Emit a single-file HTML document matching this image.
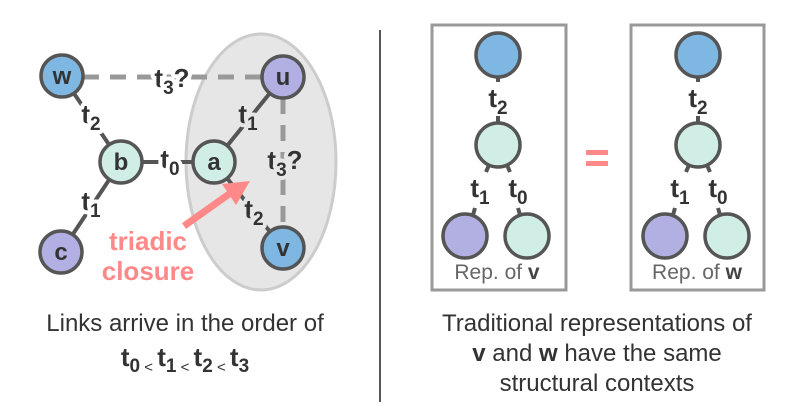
<!DOCTYPE html>
<html><head><meta charset="utf-8"><style>
html,body{margin:0;padding:0;background:#fff;}
svg{display:block;font-family:"Liberation Sans",sans-serif;}
.n{stroke:#555;stroke-width:3.5;}
.e{stroke:#555;stroke-width:4;}
.lb{font-weight:bold;font-size:26px;fill:#333;text-anchor:middle;paint-order:stroke;stroke-width:8;stroke-linejoin:round;}
.nl{font-weight:bold;font-size:24px;fill:#333;text-anchor:middle;}
</style></head><body>
<svg width="797" height="415" viewBox="0 0 797 415">
<ellipse cx="261" cy="162" rx="75" ry="128" fill="#e6e6e6" stroke="#ccc" stroke-width="3"/>
<line x1="83" y1="77" x2="262" y2="77" stroke="#999" stroke-width="5" stroke-dasharray="16,11"/>
<line x1="283" y1="98" x2="283" y2="227" stroke="#999" stroke-width="5" stroke-dasharray="16,11"/>
<line class="e" x1="62" y1="76" x2="121" y2="162"/>
<line class="e" x1="61" y1="252" x2="121" y2="162"/>
<line class="e" x1="121" y1="162" x2="214" y2="162"/>
<line class="e" x1="214" y1="162" x2="283" y2="77"/>
<line class="e" x1="214" y1="162" x2="283" y2="248"/>
<text class="lb" x="172" y="87" stroke="#fff">t<tspan font-size="19" dy="7">3</tspan><tspan dy="-7">?</tspan></text>
<text class="lb" x="285" y="169" stroke="#e6e6e6">t<tspan font-size="19" dy="7">3</tspan><tspan dy="-7">?</tspan></text>
<text class="lb" x="91" y="123" stroke="#fff">t<tspan font-size="19" dy="7">2</tspan></text>
<text class="lb" x="91" y="210" stroke="#fff">t<tspan font-size="19" dy="7">1</tspan></text>
<text class="lb" x="170" y="168" stroke="#fff">t<tspan font-size="19" dy="7">0</tspan></text>
<text class="lb" x="248" y="123" stroke="#e6e6e6">t<tspan font-size="19" dy="7">1</tspan></text>
<text class="lb" x="254" y="218" stroke="#e6e6e6">t<tspan font-size="19" dy="7">2</tspan></text>
<circle class="n" cx="62" cy="76" r="21" fill="#7fb7e3"/><text class="nl" x="62" y="84">w</text>
<circle class="n" cx="283" cy="77" r="21" fill="#b2b0e3"/><text class="nl" x="283" y="85">u</text>
<circle class="n" cx="121" cy="162" r="21" fill="#d1eee6"/><text class="nl" x="121" y="170">b</text>
<circle class="n" cx="214" cy="162" r="21" fill="#d1eee6"/><text class="nl" x="214" y="170">a</text>
<circle class="n" cx="61" cy="252" r="21" fill="#b2b0e3"/><text class="nl" x="61" y="260">c</text>
<circle class="n" cx="283" cy="248" r="21" fill="#7fb7e3"/><text class="nl" x="283" y="256">v</text>
<line x1="184" y1="226" x2="232" y2="192" stroke="#f88" stroke-width="7"/>
<polygon points="250,181 222,184 236,205" fill="#f88"/>
<text x="148" y="250" font-size="26" font-weight="bold" fill="#f88" text-anchor="middle">triadic</text>
<text x="148" y="280" font-size="26" font-weight="bold" fill="#f88" text-anchor="middle">closure</text>
<line x1="380" y1="30" x2="380" y2="402" stroke="#555" stroke-width="2"/>
<rect x="432" y="25" width="134" height="265" fill="none" stroke="#999" stroke-width="3"/>
<rect x="631" y="25" width="133" height="265" fill="none" stroke="#999" stroke-width="3"/>
<g id="tree">
<line class="e" x1="498" y1="76" x2="498" y2="82"/>
<line class="e" x1="498" y1="116" x2="498" y2="124"/>
<line class="e" x1="489" y1="165" x2="486" y2="172"/>
<line class="e" x1="507" y1="165" x2="510" y2="172"/>
<line class="e" x1="475" y1="208" x2="473" y2="215"/>
<line class="e" x1="518" y1="208" x2="520" y2="215"/>
<text class="lb" x="498" y="107" stroke="none">t<tspan font-size="19" dy="7">2</tspan></text>
<text class="lb" x="480" y="197" stroke="none">t<tspan font-size="19" dy="7">1</tspan></text>
<text class="lb" x="518" y="197" stroke="none">t<tspan font-size="19" dy="7">0</tspan></text>
<circle class="n" cx="498" cy="55" r="22" fill="#7fb7e3"/>
<circle class="n" cx="498" cy="145" r="22" fill="#d1eee6"/>
<circle class="n" cx="465" cy="236" r="22" fill="#b2b0e3"/>
<circle class="n" cx="527" cy="236" r="22" fill="#d1eee6"/>
</g>
<use href="#tree" x="200"/>
<text x="497" y="279" font-size="21" fill="#666" text-anchor="middle">Rep. of <tspan font-weight="bold" fill="#444">v</tspan></text>
<text x="697" y="279" font-size="21" fill="#666" text-anchor="middle">Rep. of <tspan font-weight="bold" fill="#444">w</tspan></text>
<rect x="586" y="150" width="22" height="5" fill="#f88"/>
<rect x="586" y="161" width="22" height="5" fill="#f88"/>
<g font-size="24" fill="#333" text-anchor="middle">
<text x="185" y="331">Links arrive in the order of</text>
<text x="185" y="366" font-weight="bold" font-size="26">t<tspan font-size="19" dy="6">0</tspan><tspan font-size="15" font-weight="normal"> &lt; </tspan><tspan dy="-6">t</tspan><tspan font-size="19" dy="6">1</tspan><tspan font-size="15" font-weight="normal"> &lt; </tspan><tspan dy="-6">t</tspan><tspan font-size="19" dy="6">2</tspan><tspan font-size="15" font-weight="normal"> &lt; </tspan><tspan dy="-6">t</tspan><tspan font-size="19" dy="6">3</tspan></text>
<text x="597" y="331">Traditional representations of</text>
<text x="597" y="361"><tspan font-weight="bold">v</tspan> and <tspan font-weight="bold">w</tspan> have the same</text>
<text x="597" y="391">structural contexts</text>
</g>
</svg>
</body></html>
